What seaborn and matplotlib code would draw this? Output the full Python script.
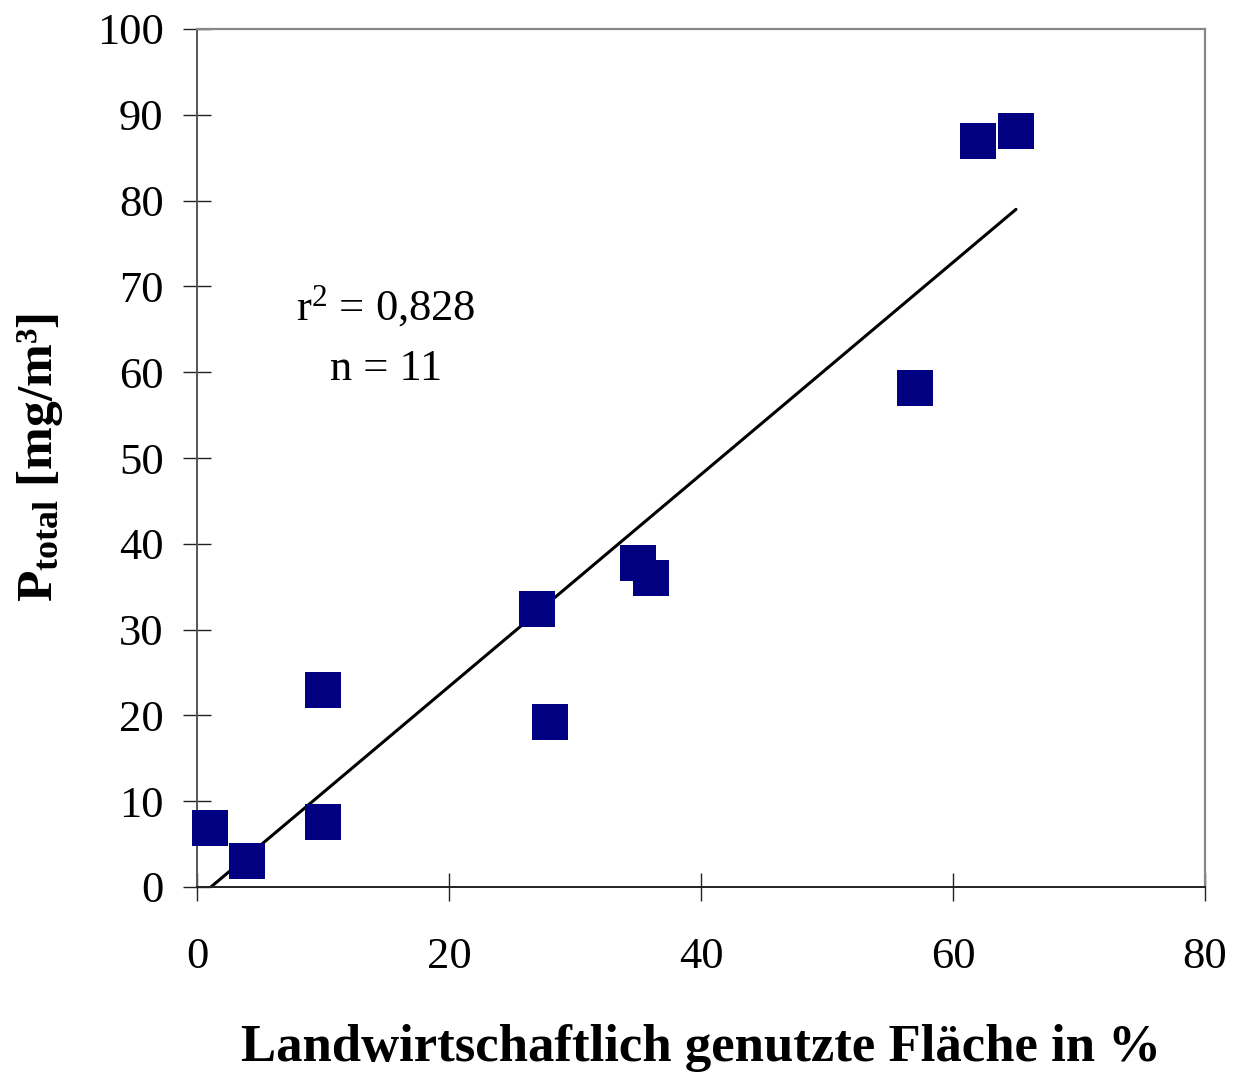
import numpy as np
import pandas as pd
import matplotlib
matplotlib.use("Agg")
import matplotlib.pyplot as plt
import seaborn as sns

# Data
flaeche = [1.0, 4.0, 10.0, 10.0, 27.0, 28.0, 35.0, 36.0, 57.0, 62.0, 65.0]
p_total = [6.9, 3.0, 23.0, 7.6, 32.4, 19.2, 37.8, 36.0, 58.2, 86.9, 88.1]
x_ticks = [0, 20, 40, 60, 80]
y_ticks = [0, 10, 20, 30, 40, 50, 60, 70, 80, 90, 100]
r2_text = r"r$^2$ = 0,828"
n_text = "n = 11"
x_label = "Landwirtschaftlich genutzte Fläche in %"
y_label = r"$\mathbf{P_{total}}$ [mg/m³]"

df = pd.DataFrame({"x": flaeche, "y": p_total})

sns.set_theme(style="white")
plt.rcParams["font.family"] = ["Liberation Serif", "DejaVu Serif"]
plt.rcParams["mathtext.fontset"] = "custom"
plt.rcParams["mathtext.rm"] = "Liberation Serif"
plt.rcParams["mathtext.it"] = "Liberation Serif:italic"
plt.rcParams["mathtext.bf"] = "Liberation Serif:bold"
plt.rcParams["text.color"] = "black"
plt.rcParams["axes.labelcolor"] = "black"

fig = plt.figure(figsize=(12.35, 10.72), dpi=100)
ax = fig.add_axes([197 / 1235, 1 - 887 / 1072, (1205 - 197) / 1235, (887 - 29) / 1072])

sns.regplot(data=df, x="x", y="y", scatter=False, ci=None, truncate=True,
            line_kws=dict(color="black", lw=2.2), ax=ax)
sns.scatterplot(data=df, x="x", y="y", marker="s", s=640, color="#000080",
                linewidth=0, clip_on=False, zorder=3, ax=ax)

ax.set_xlim(0, 80)
ax.set_ylim(0, 100)
ax.set_xticks(x_ticks)
ax.set_yticks(y_ticks)
ax.tick_params(axis="both", which="major", bottom=True, left=True, top=False, right=False,
               direction="inout", length=20, width=1.0,
               color="#222222", labelcolor="black", labelsize=32)
ax.tick_params(axis="y", pad=14)
ax.tick_params(axis="x", pad=26)

for side, col, lw in [("left", "#555555", 1.4), ("bottom", "#222222", 1.4),
                      ("top", "#888888", 1.6), ("right", "#888888", 1.6)]:
    ax.spines[side].set_visible(True)
    ax.spines[side].set_color(col)
    ax.spines[side].set_linewidth(lw)

ax.set_xlabel(x_label, fontsize=38, fontweight="bold", labelpad=34)
ax.set_ylabel(y_label, fontsize=37, fontweight="bold", labelpad=23)

ax.text(15.0, 66.1, r2_text, fontsize=32, ha="center", va="baseline")
ax.text(15.0, 59.1, n_text, fontsize=32, ha="center", va="baseline")

fig.savefig("out.png", dpi=100)
